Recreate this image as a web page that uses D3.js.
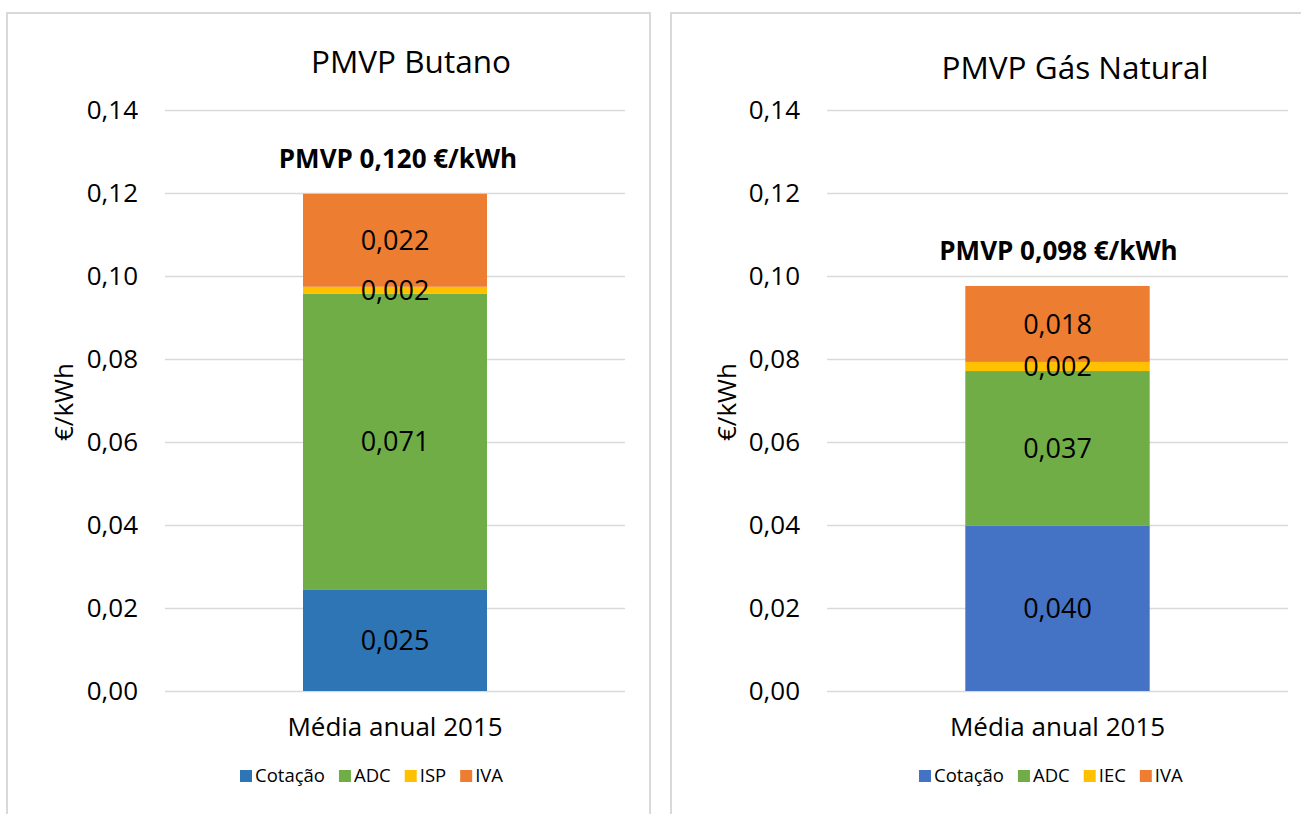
<!DOCTYPE html>
<html><head><meta charset="utf-8">
<script src="https://cdn.jsdelivr.net/npm/d3@7"></script>
<style>body{margin:0;background:#fff}svg{display:block}text{font-family:"Open Sans",sans-serif;fill:#000}</style>
</head><body><svg id="c" width="1301" height="814"></svg>
<script>
const series = ["Cotação","ADC","ISP","IVA"];
const seriesGN = ["Cotação","ADC","IEC","IVA"];
const category = ["Média anual 2015"];
const butanoValues = [0.0245, 0.0712, 0.0017, 0.0224];
const gasValues = [0.0398, 0.0373, 0.0022, 0.0183];
const butanoLabels = ["0,025","0,071","0,002","0,022"];
const gasLabels = ["0,040","0,037","0,002","0,018"];
const yTicks = [0,0.02,0.04,0.06,0.08,0.10,0.12,0.14];
const titles = ["PMVP Butano","PMVP Gás Natural"];
const totals = ["PMVP 0,120 €/kWh","PMVP 0,098 €/kWh"];
const colorsB = ["#2E75B6","#70AD47","#FFC000","#ED7D31"];
const colorsG = ["#4472C4","#70AD47","#FFC000","#ED7D31"];

const svg = d3.select("#c");
const fmt = d => d3.format(".2f")(d).replace(".", ",");

function panel(cfg){
  const g = svg.append("g");
  g.append("path").attr("d", cfg.frame).attr("fill","none").attr("stroke","#d9d9d9").attr("stroke-width",2);
  const y = d3.scaleLinear().domain([0,0.14]).range([691,110]);
  const x = d3.scaleBand().domain(category).range([cfg.x0,cfg.x1]).paddingInner(0.6).paddingOuter(0.3);
  g.selectAll(".grid").data(yTicks).join("line")
    .attr("x1",cfg.x0).attr("x2",cfg.x1).attr("y1",d=>Math.round(y(d))+0.5).attr("y2",d=>Math.round(y(d))+0.5)
    .attr("stroke","#d9d9d9").attr("stroke-width",1.3);
  const ya = g.append("g").attr("transform",`translate(${cfg.x0},0)`)
    .call(d3.axisLeft(y).tickValues(yTicks).tickFormat(fmt).tickSize(0).tickPadding(27));
  ya.select(".domain").remove();
  ya.selectAll("text").attr("font-size",26).attr("font-family","Open Sans").attr("fill","#000");
  const row = {}; cfg.names.forEach((n,i)=>row[n]=cfg.values[i]);
  const stack = d3.stack().keys(cfg.names)([row]);
  stack.forEach((s,i)=>{
    const d = s[0];
    g.append("rect").attr("x",x(category[0])).attr("width",x.bandwidth())
      .attr("y",y(d[1])).attr("height",y(d[0])-y(d[1])).attr("fill",cfg.colors[i]);
  });
  stack.forEach((s,i)=>{
    const d = s[0];
    g.append("text").attr("x",x(category[0])+x.bandwidth()/2).attr("y",(y(d[0])+y(d[1]))/2)
      .attr("dy","0.36em").attr("text-anchor","middle").attr("font-size",27).text(cfg.labels[i]);
  });
  const top = stack[stack.length-1][0][1];
  g.append("text").attr("x",x(category[0])+x.bandwidth()/2+cfg.totDx).attr("y",y(top)-26)
    .attr("text-anchor","middle").attr("font-size",26).attr("font-weight","bold").text(cfg.total);
  g.append("text").attr("x",cfg.titleX).attr("y",cfg.titleY).attr("text-anchor","middle").attr("font-size",31.5).text(cfg.title);
  const xa = g.append("g").attr("transform","translate(0,691)").call(d3.axisBottom(x).tickSize(0).tickPadding(27));
  xa.select(".domain").remove();
  xa.selectAll("text").attr("font-size",26).attr("font-family","Open Sans").attr("fill","#000");
  g.append("text").attr("transform",`translate(${cfg.yTitleX},402) rotate(-90)`).attr("text-anchor","middle")
    .attr("font-size",26).text("€/kWh");
  const lg = g.append("g").attr("transform",`translate(${cfg.legX},776)`);
  let cx = 0;
  cfg.names.forEach((n,i)=>{
    const it = lg.append("g").attr("transform",`translate(${cx},0)`);
    it.append("rect").attr("x",0).attr("y",-6).attr("width",12).attr("height",12).attr("fill",cfg.colors[i]);
    const t = it.append("text").attr("x",15).attr("y",0).attr("dy","0.35em").attr("font-size",18.5).attr("fill","#404040").text(n);
    cx += 15 + t.node().getComputedTextLength() + 14;
  });
}

panel({frame:"M7,814 V13 H650 V814", x0:165, x1:625, names:series, values:butanoValues, labels:butanoLabels,
  colors:colorsB, total:totals[0], title:titles[0], titleX:411, titleY:73, yTitleX:73, legX:240, totDx:3});
panel({frame:"M671,814 V13 H1301", x0:827, x1:1288, names:seriesGN, values:gasValues, labels:gasLabels,
  colors:colorsG, total:totals[1], title:titles[1], titleX:1075, titleY:79, yTitleX:736, legX:919, totDx:1});
</script></body></html>
